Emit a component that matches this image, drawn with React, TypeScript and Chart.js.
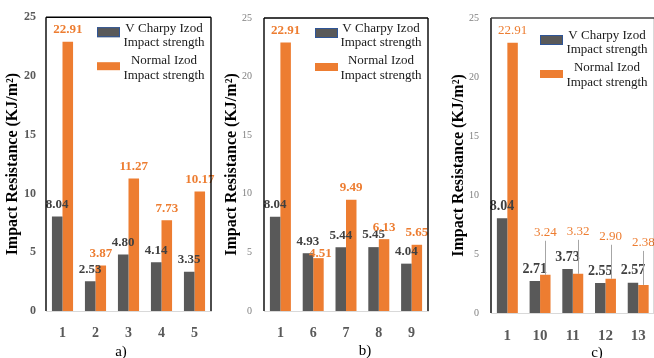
import React, { useEffect, useRef } from "react";
import { Chart, registerables } from "chart.js";

Chart.register(...registerables);

// ---------- data ----------
const SERIES_NAMES = ["V Charpy Izod Impact strength", "Normal Izod Impact strength"];
const LEGEND_LINES = [
  ["V Charpy Izod", "Impact strength"],
  ["Normal Izod", "Impact strength"],
];
const Y_TITLE = "Impact Resistance (KJ/m²)";
const Y_MIN = 0;
const Y_MAX = 25;
const Y_STEP = 5;

const CATS_A = ["1", "2", "3", "4", "5"];
const VCHARPY_A = [8.04, 2.53, 4.8, 4.14, 3.35];
const NORMAL_A = [22.91, 3.87, 11.27, 7.73, 10.17];

const CATS_B = ["1", "6", "7", "8", "9"];
const VCHARPY_B = [8.04, 4.93, 5.44, 5.45, 4.04];
const NORMAL_B = [22.91, 4.51, 9.49, 6.13, 5.65];

const CATS_C = ["1", "10", "11", "12", "13"];
const VCHARPY_C = [8.04, 2.71, 3.73, 2.55, 2.57];
const NORMAL_C = [22.91, 3.24, 3.32, 2.9, 2.38];

const PANEL_LABELS = ["a)", "b)", "c)"];

// ---------- style ----------
const GRAY = "#595959";
const ORANGE = "#ED7D31";
const SERIF = "'Liberation Serif', 'DejaVu Serif', serif";

type PanelCfg = {
  x: number;
  w: number;
  top: number;
  zeroY: number;
  areaLeft: number;
  areaRight: number;
  titlePad: number;
  tickFont: any;
  tickColor: string;
  tickPad: number;
  catFontSize: number;
  grayLabelFont: string;
  orangeLabelFont: string;
  callouts: boolean;
  nudges: Record<string, [number, number]>;
  legendDy: number;
  legendBoxX: number;
  legendTextX: number;
  topBorderColor: string;
  cats: string[];
  v1: number[];
  v2: number[];
  label: string;
  labelX: number;
  labelY: number;
};

const PANELS: PanelCfg[] = [
  {
    x: 0, w: 215, top: 13, zeroY: 311, areaLeft: 46, areaRight: 211, titlePad: 3,
    tickFont: { family: SERIF, size: 12, weight: "bold" }, tickColor: GRAY, tickPad: 10,
    catFontSize: 14,
    grayLabelFont: `bold 13px ${SERIF}`, orangeLabelFont: `bold 13px ${SERIF}`,
    callouts: false, nudges: {}, legendDy: 0, legendBoxX: 51, legendTextX: 118,
    topBorderColor: "#000000",
    cats: CATS_A, v1: VCHARPY_A, v2: NORMAL_A,
    label: PANEL_LABELS[0], labelX: 121, labelY: 351,
  },
  {
    x: 215, w: 215, top: 13, zeroY: 311, areaLeft: 49, areaRight: 213, titlePad: 7,
    tickFont: { family: SERIF, size: 10 }, tickColor: "#7F7F7F", tickPad: 12,
    catFontSize: 14,
    grayLabelFont: `bold 13px ${SERIF}`, orangeLabelFont: `bold 13px ${SERIF}`,
    callouts: false, nudges: { "1-1": [2, 7] }, legendDy: 0, legendBoxX: 51, legendTextX: 117,
    topBorderColor: "#000000",
    cats: CATS_B, v1: VCHARPY_B, v2: NORMAL_B,
    label: PANEL_LABELS[1], labelX: 365, labelY: 350,
  },
  {
    x: 430, w: 230, top: 15, zeroY: 313, areaLeft: 61, areaRight: 227, titlePad: 19,
    tickFont: { family: SERIF, size: 10 }, tickColor: "#7F7F7F", tickPad: 12,
    catFontSize: 15,
    grayLabelFont: `bold 14px ${SERIF}`, orangeLabelFont: `13px ${SERIF}`,
    callouts: true, nudges: {}, legendDy: 7, legendBoxX: 49, legendTextX: 116,
    topBorderColor: "#404040",
    cats: CATS_C, v1: VCHARPY_C, v2: NORMAL_C,
    label: PANEL_LABELS[2], labelX: 597, labelY: 352,
  },
];

function makePlugin(cfg: PanelCfg) {
  return {
    id: "panelDecor" + cfg.label,
    afterDatasetsDraw(chart: any) {
      const ctx = chart.ctx;
      ctx.save();
      ctx.textAlign = "center";
      ctx.textBaseline = "middle";
      chart.data.datasets.forEach((ds: any, i: number) => {
        const meta = chart.getDatasetMeta(i);
        meta.data.forEach((bar: any, j: number) => {
          const v = ds.data[j] as number;
          const text = v.toFixed(2);
          const nudge = cfg.nudges[`${i}-${j}`] || [0, 0];
          let x = bar.x + nudge[0];
          let y = bar.y - 12 + nudge[1];
          if (cfg.callouts && i === 1 && j > 0) {
            y = bar.y - 42;
            ctx.strokeStyle = "#A6A6A6";
            ctx.lineWidth = 1;
            ctx.beginPath();
            ctx.moveTo(Math.round(x) + 0.5, y + 8);
            ctx.lineTo(Math.round(x) + 0.5, bar.y);
            ctx.stroke();
          }
          ctx.font = i === 0 ? cfg.grayLabelFont : cfg.orangeLabelFont;
          ctx.fillStyle = i === 0 ? "#404040" : ORANGE;
          ctx.fillText(text, x, y);
        });
      });
      ctx.restore();
    },
    afterDraw(chart: any) {
      const { left, right, top, bottom } = chart.chartArea;
      const ctx = chart.ctx;
      ctx.save();
      // chart area frame
      ctx.lineWidth = 1.4;
      ctx.strokeStyle = "#000000";
      ctx.beginPath();
      ctx.moveTo(left, bottom);
      ctx.lineTo(left, top);
      ctx.stroke();
      ctx.strokeStyle = cfg.topBorderColor;
      ctx.beginPath();
      ctx.moveTo(left, top);
      ctx.lineTo(right, top);
      ctx.stroke();
      ctx.strokeStyle = "#000000";
      ctx.beginPath();
      ctx.moveTo(right, top);
      ctx.lineTo(right, bottom);
      ctx.stroke();

      // legend
      const colors = [GRAY, ORANGE];
      const boxTops = [10, 45];
      const lineYs = [
        [11, 25],
        [43, 58],
      ];
      ctx.font = `13px ${SERIF}`;
      ctx.textAlign = "center";
      ctx.textBaseline = "middle";
      chart.data.datasets.forEach((ds: any, i: number) => {
        const bx = left + cfg.legendBoxX;
        const by = top + boxTops[i] + cfg.legendDy;
        ctx.fillStyle = colors[i];
        ctx.fillRect(bx, by, 23, i === 0 ? 10 : 8);
        if (i === 0) {
          ctx.strokeStyle = "#2F5597";
          ctx.lineWidth = 1;
          ctx.strokeRect(bx + 0.5, by + 0.5, 22, 9);
        }
        ctx.fillStyle = "#1a1a1a";
        LEGEND_LINES[i].forEach((ln, k) => {
          ctx.fillText(ln, left + cfg.legendTextX, top + lineYs[i][k] + cfg.legendDy);
        });
      });
      ctx.restore();
    },
  };
}

function Panel({ cfg }: { cfg: PanelCfg }) {
  const ref = useRef<HTMLCanvasElement>(null);
  useEffect(() => {
    const chart = new Chart(ref.current as HTMLCanvasElement, {
      type: "bar",
      data: {
        labels: cfg.cats,
        datasets: [
          {
            label: SERIES_NAMES[0],
            data: cfg.v1,
            backgroundColor: GRAY,
            categoryPercentage: 0.64,
            barPercentage: 1.0,
          },
          {
            label: SERIES_NAMES[1],
            data: cfg.v2,
            backgroundColor: ORANGE,
            categoryPercentage: 0.64,
            barPercentage: 1.0,
          },
        ],
      },
      options: {
        responsive: false,
        animation: false,
        layout: { padding: { left: 0, top: cfg.top, right: cfg.w - cfg.areaRight, bottom: 0 } },
        plugins: {
          legend: { display: false },
          tooltip: { enabled: false },
        },
        scales: {
          x: {
            grid: { display: false, drawTicks: false },
            border: { display: true, color: "#D9D9D9", width: 1 },
            ticks: {
              color: GRAY,
              font: { family: SERIF, size: cfg.catFontSize, weight: "bold" },
              padding: 14,
              autoSkip: false,
              maxRotation: 0,
            },
            afterFit: (s: any) => {
              s.height = 358 - cfg.zeroY;
            },
          },
          y: {
            min: Y_MIN,
            max: Y_MAX,
            grid: { display: false, drawTicks: false },
            border: { display: false },
            ticks: {
              stepSize: Y_STEP,
              color: cfg.tickColor,
              font: cfg.tickFont,
              padding: cfg.tickPad,
            },
            title: {
              display: true,
              text: Y_TITLE,
              color: "#000000",
              font: { family: SERIF, size: 16, weight: "bold" },
              padding: { top: cfg.titlePad, bottom: 0 },
            },
            afterFit: (s: any) => {
              s.width = cfg.areaLeft;
            },
          },
        },
      },
      plugins: [makePlugin(cfg) as any],
    });
    return () => chart.destroy();
  }, []);
  return (
    <div style={{ position: "absolute", left: cfg.x, top: 0, width: cfg.w, height: 358 }}>
      <canvas ref={ref} width={cfg.w} height={358} style={{ display: "block" }} />
    </div>
  );
}

export default function App() {
  return (
    <div
      style={{
        position: "absolute",
        left: 0,
        top: 0,
        width: 654,
        height: 358,
        overflow: "hidden",
        background: "#ffffff",
      }}
    >
      {PANELS.map((p) => (
        <Panel key={p.label} cfg={p} />
      ))}
      {PANELS.map((p) => (
        <div
          key={"lbl" + p.label}
          style={{
            position: "absolute",
            left: p.labelX,
            top: p.labelY,
            transform: "translate(-50%, -50%)",
            fontFamily: SERIF,
            fontSize: 15,
            color: "#000",
            lineHeight: 1,
            whiteSpace: "nowrap",
          }}
        >
          {p.label}
        </div>
      ))}
    </div>
  );
}
